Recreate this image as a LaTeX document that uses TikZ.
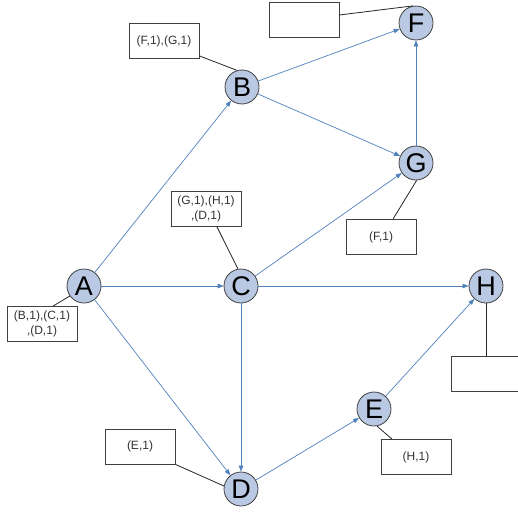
\documentclass[tikz,border=0pt]{standalone}
\usepackage{fontspec}
\setmainfont{Liberation Sans}
\usetikzlibrary{arrows.meta}
\definecolor{edgeblue}{RGB}{79,129,189}
\definecolor{nodefill}{RGB}{185,201,227}
\begin{document}
\begin{tikzpicture}[x=1pt,y=-1pt,
  vertex/.style={circle,draw=black!75,fill=nodefill,line width=0.8pt,minimum size=34pt,inner sep=0pt,font=\fontsize{27}{27}\selectfont},
  edge/.style={edgeblue,line width=0.7pt,-{Triangle[length=6pt,width=4.5pt]}},
  lbox/.style={draw=black!75,line width=0.8pt,minimum width=70pt,minimum height=35pt,inner sep=1pt,align=center,font=\fontsize{12}{15}\selectfont,text=black!80},
  tie/.style={black!85,line width=0.8pt}]
\useasboundingbox (0,0) rectangle (518,513);

%% Vertices
\node[vertex] (A) at (84,286) {A};
\node[vertex] (B) at (242,87) {B};
\node[vertex] (C) at (241,286) {C};
\node[vertex] (D) at (241,489) {D};
\node[vertex] (E) at (374,409) {E};
\node[vertex] (F) at (416,23) {F};
\node[vertex] (G) at (416,163) {G};
\node[vertex] (H) at (486,286) {H};

%% Edges
\draw[edge] (A) -- (B);
\draw[edge] (A) -- (C);
\draw[edge] (A) -- (D);
\draw[edge] (B) -- (F);
\draw[edge] (B) -- (G);
\draw[edge] (C) -- (G);
\draw[edge] (C) -- (H);
\draw[edge] (C) -- (D);
\draw[edge] (D) -- (E);
\draw[edge] (E) -- (H);
\draw[edge] (G) -- (F);

%% Adjacency lists
% A
\node[lbox] (lbA) at (42,324) {(B,1),(C,1)\\,(D,1)};
\draw[tie] ([xshift=11pt]lbA.north) -- (A.215);

% B
\node[lbox] (lbB) at (164,41) {(F,1),(G,1)};
\draw[tie] ([yshift=3pt]lbB.south east) -- (B.107);

% C
\node[lbox] (lbC) at (206,209) {(G,1),(H,1)\\,(D,1)};
\draw[tie] ([xshift=11pt]lbC.south) -- (C.100);

% D
\node[lbox] (lbD) at (140,446.5) {(E,1)};
\draw[tie] (lbD.south east) -- (D.170);

% E
\node[lbox] (lbE) at (416,457) {(H,1)};
\draw[tie] ([xshift=-24pt]lbE.north) -- (E.-80);

% F
\node[lbox] (lbF) at (304,20) {};
\draw[tie] ([yshift=5pt]lbF.east) -- (F.100);

% G
\node[lbox] (lbG) at (381,237) {(F,1)};
\draw[tie] ([xshift=12pt]lbG.north) -- (G.-88);

% H
\node[lbox] (lbH) at (486,373.5) {};
\draw[tie] (lbH.north) -- (H.south);
\end{tikzpicture}
\end{document}
